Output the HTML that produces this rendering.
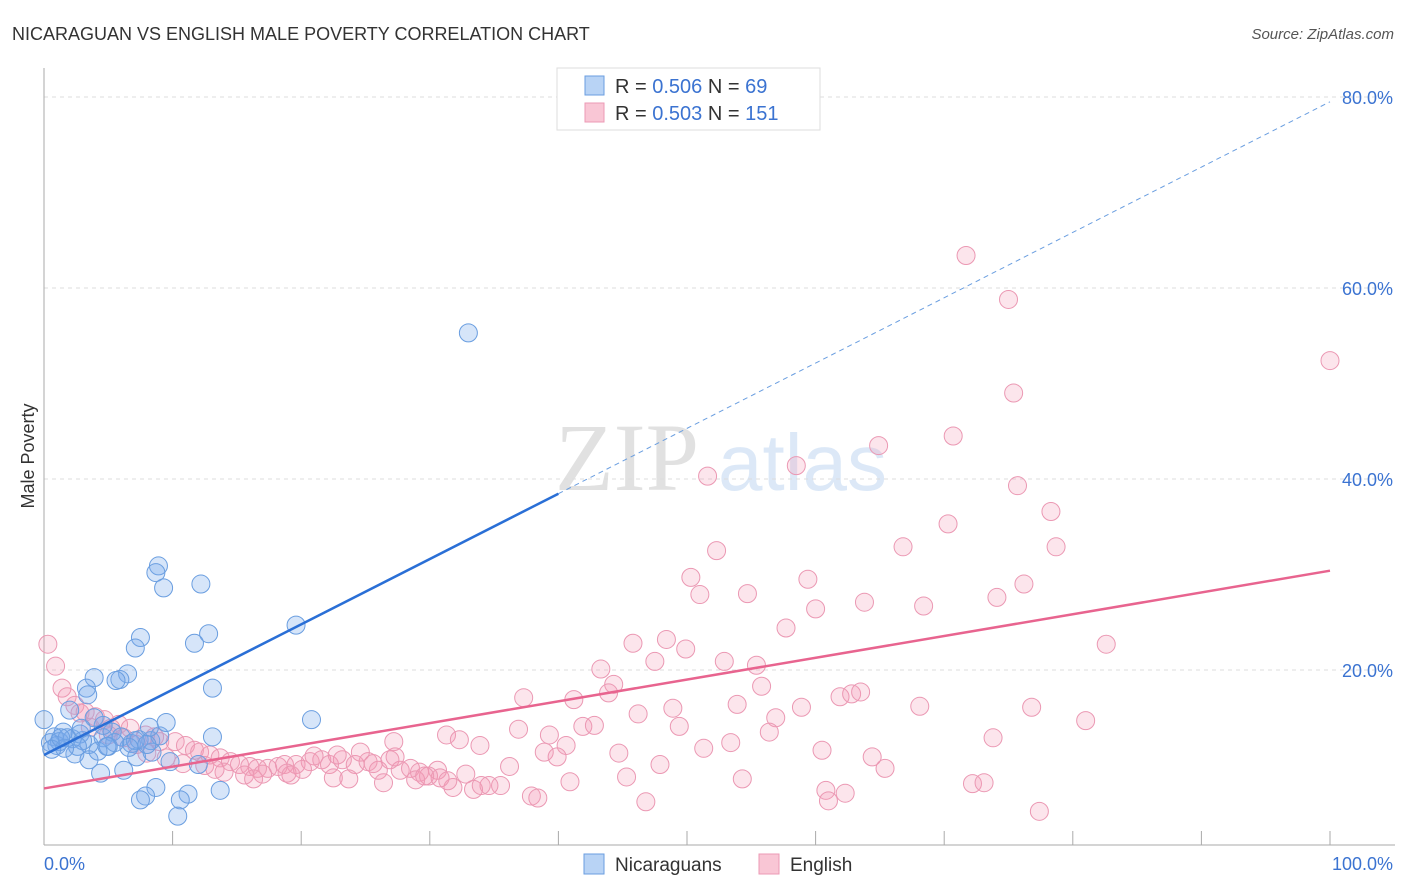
<!DOCTYPE html>
<html><head><meta charset="utf-8"><style>
body{margin:0;background:#fff;font-family:"Liberation Sans",sans-serif}
svg{display:block}
</style></head><body>
<svg width="1406" height="892" viewBox="0 0 1406 892" id="chart">
<text x="12" y="40" font-size="18" fill="#333">NICARAGUAN VS ENGLISH MALE POVERTY CORRELATION CHART</text>
<text x="1394" y="39" font-size="15" fill="#555" font-style="italic" text-anchor="end">Source: ZipAtlas.com</text>
<g opacity="0.35">
<text x="555" y="490" font-size="96" font-family="Liberation Serif,serif" fill="#aaa">ZIP</text>
<text x="718" y="490" font-size="80" fill="#9cc0ea">atlas</text>
</g>
<g id="grid"></g>
<g id="axes"></g>
<g id="marks"></g>
<text transform="translate(34,456) rotate(-90)" font-size="18" fill="#333" text-anchor="middle">Male Poverty</text>
<g>
<rect x="557" y="68" width="263" height="62" fill="#fff" stroke="#ddd"/>
<rect x="585" y="76" width="19" height="19" fill="#b8d3f5" stroke="#6a9ee0"/>
<rect x="585" y="103" width="19" height="19" fill="#f9c6d5" stroke="#ec9ab5"/>
<text x="615" y="93" font-size="20" fill="#333">R = <tspan fill="#3b73d1">0.506</tspan>   N = <tspan fill="#3b73d1"> 69</tspan></text>
<text x="615" y="120" font-size="20" fill="#333">R = <tspan fill="#3b73d1">0.503</tspan>   N = <tspan fill="#3b73d1">151</tspan></text>
</g>
<g>
<rect x="584" y="854" width="20" height="20" fill="#b8d3f5" stroke="#6a9ee0"/>
<text x="615" y="871" font-size="19" fill="#333">Nicaraguans</text>
<rect x="759" y="854" width="20" height="20" fill="#f9c6d5" stroke="#ec9ab5"/>
<text x="790" y="871" font-size="19" fill="#333">English</text>
</g>
</svg>
<script>
const yTicks=[20,40,60,80];
const yTickLabels=["20.0%","40.0%","60.0%","80.0%"];
const xTickValues=[0,10,20,30,40,50,60,70,80,90,100];
const blueX=[33.0,8.9,8.7,9.3,12.2,19.6,7.5,12.8,11.7,7.1,13.1,6.5,5.9,5.6,3.9,3.3,3.4,20.8,0,2.0,1.5,0.8,1.2,2.2,2.8,3.5,4.6,5.3,6.0,6.8,7.4,8.3,9.0,1.0,0.5,1.8,3.0,13.1,9.5,8.2,7.1,4.6,2.4,3.5,4.4,6.2,7.2,8.4,5.0,13.7,8.7,7.9,7.5,11.2,10.6,10.4,4.2,2.6,1.6,0.6,6.6,9.8,12.0,3.9,5.5,8.0,1.3,2.9,4.9];
const blueY=[55.3,30.9,30.2,28.6,29.0,24.7,23.4,23.8,22.8,22.3,18.1,19.6,19.0,18.9,19.2,18.1,17.4,14.8,14.8,15.8,13.5,13.0,12.5,12.8,13.3,12.2,12.9,13.5,13.0,12.3,12.7,12.6,13.1,12.1,12.4,12.9,12.6,13.0,14.5,14.0,12.6,14.2,11.2,10.6,9.2,9.5,10.9,11.4,12.0,7.4,7.7,6.8,6.4,7.0,6.4,4.7,11.5,12.0,11.8,11.7,11.9,10.4,10.1,15.0,12.4,12.2,12.9,13.9,12.0];
const pinkX=[71.7,75.0,100,75.4,64.9,70.7,58.5,51.6,75.7,70.3,78.3,52.3,66.8,78.7,50.3,59.4,76.2,51.0,54.7,74.1,63.8,60.0,68.4,57.7,45.8,48.4,49.9,82.6,47.5,52.9,55.4,43.3,44.3,43.9,55.8,37.3,41.2,61.9,62.8,63.5,53.9,58.9,68.1,76.8,48.9,46.2,56.9,81.0,36.9,41.9,42.8,39.3,49.4,56.4,31.3,32.3,33.9,27.2,40.6,51.3,53.4,60.5,73.8,44.7,38.9,39.9,64.4,65.4,47.9,45.3,36.2,32.8,30.6,54.3,40.9,31.8,35.5,37.9,60.8,62.3,61.0,72.2,73.1,77.4,46.8,38.4,34.6,33.4,
0.3,0.9,1.4,1.8,2.4,2.8,3.2,4.0,4.7,5.2,5.8,6.7,7.9,8.6,9.0,10.2,11.0,11.7,12.1,12.9,13.7,14.5,15.2,16.0,16.6,17.4,18.2,18.7,19.6,20.7,21.6,22.2,23.2,24.2,25.2,26.0,26.9,27.7,28.5,29.2,29.9,30.8,3.6,5.0,6.2,7.2,8.0,9.5,10.8,12.5,14.0,15.6,17.0,18.9,20.1,21.0,22.8,24.6,25.6,27.3,28.9,29.6,22.5,19.2,16.3,13.3,26.4,23.7,31.4,34.0];
const pinkY=[63.4,58.8,52.4,49.0,43.5,44.5,41.4,40.3,39.3,35.3,36.6,32.5,32.9,32.9,29.7,29.5,29.0,27.9,28.0,27.6,27.1,26.4,26.7,24.4,22.8,23.2,22.2,22.7,20.9,20.9,20.5,20.1,18.5,17.6,18.3,17.1,16.9,17.2,17.5,17.7,16.4,16.1,16.2,16.1,16.0,15.4,15.0,14.7,13.8,14.1,14.2,13.2,14.1,13.5,13.2,12.7,12.1,12.5,12.1,11.8,12.4,11.6,12.9,11.3,11.4,10.9,10.9,9.7,10.1,8.8,9.9,9.1,9.5,8.6,8.3,7.7,7.9,6.8,7.4,7.1,6.3,8.1,8.2,5.2,6.2,6.6,7.9,7.5,
22.7,20.4,18.1,17.2,16.3,15.5,15.6,15.1,14.8,13.9,14.3,13.9,13.2,13.0,12.5,12.5,12.1,11.6,11.4,11.1,10.8,10.4,10.1,9.9,9.7,9.7,9.9,10.1,10.1,10.4,10.6,10.1,10.6,10.1,10.4,9.5,10.6,9.5,9.7,9.3,8.9,8.7,14.0,13.2,12.9,12.2,11.3,10.8,10.2,10.0,9.3,9.0,9.1,9.2,9.6,11.0,11.1,11.4,10.2,10.9,8.5,8.9,8.7,9.0,8.6,9.6,8.2,8.6,8.4,7.9];
const blueTrend=[0,11.1,100,79.5];
const pinkTrend=[0,7.6,100,30.4];
const NS="http://www.w3.org/2000/svg";
const X=v=>44+v*12.86, Y=v=>861-v*9.55;
function mk(t,a,p){const e=document.createElementNS(NS,t);for(const k in a)e.setAttribute(k,a[k]);p.appendChild(e);return e;}
const grid=document.getElementById('grid'),axes=document.getElementById('axes'),marks=document.getElementById('marks');
yTicks.forEach((t,i)=>{
 const l=mk('line',{x1:44,x2:1395,y1:Y(t),y2:Y(t),stroke:'#ddd','stroke-dasharray':'4,4'},grid);
 
 
 const tx=mk('text',{x:1393,y:Y(t)+7,'font-size':18,fill:'#3b73d1','text-anchor':'end'},axes);
 tx.textContent=yTickLabels[i];
 
 
});
mk('line',{x1:44,x2:44,y1:68,y2:845,stroke:'#aaa'},axes);
mk('line',{x1:44,x2:1395,y1:845,y2:845,stroke:'#aaa'},axes);
xTickValues.forEach(v=>{const t=mk('line',{x1:X(v),x2:X(v),y1:831,y2:845,stroke:'#aaa'},axes);
 
 });
let a=mk('text',{x:44,y:870,'font-size':18,fill:'#3b73d1'},axes);a.textContent='0.0%';


a=mk('text',{x:1393,y:870,'font-size':18,fill:'#3b73d1','text-anchor':'end'},axes);a.textContent='100.0%';


pinkX.forEach((x,i)=>{const c=mk('circle',{cx:X(x),cy:Y(pinkY[i]),r:9,fill:'rgba(244,150,180,0.25)',stroke:'#eb98b3','stroke-width':1},marks);
 
 });
blueX.forEach((x,i)=>{const c=mk('circle',{cx:X(x),cy:Y(blueY[i]),r:9,fill:'rgba(120,170,235,0.3)',stroke:'#6a9ee0','stroke-width':1},marks);
 
 });
const bm=40, byAt=v=>blueTrend[1]+(blueTrend[3]-blueTrend[1])*v/100;
let ln=mk('line',{x1:X(0),y1:Y(byAt(0)),x2:X(bm),y2:Y(byAt(bm)),stroke:'#2a6fd6','stroke-width':2.5},marks);


ln=mk('line',{x1:X(bm),y1:Y(byAt(bm)),x2:X(100),y2:Y(byAt(100)),stroke:'#6a9ee0','stroke-width':1,'stroke-dasharray':'5,4'},marks);


ln=mk('line',{x1:X(pinkTrend[0]),y1:Y(pinkTrend[1]),x2:X(pinkTrend[2]),y2:Y(pinkTrend[3]),stroke:'#e8648f','stroke-width':2.5},marks);


</script>
</body></html>
